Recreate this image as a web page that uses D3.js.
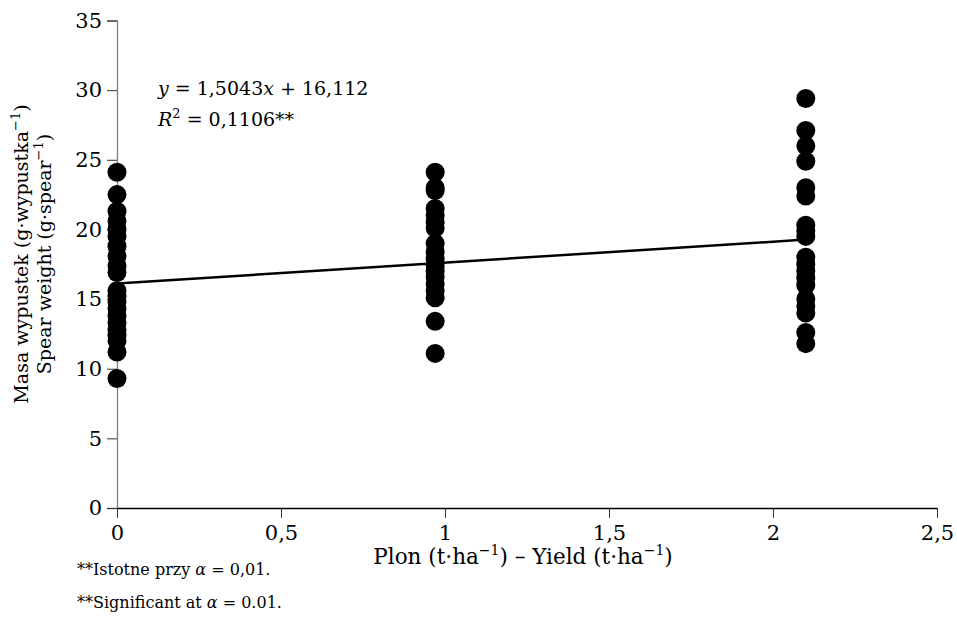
<!DOCTYPE html>
<html>
<head>
<meta charset="utf-8">
<script src="https://cdn.jsdelivr.net/npm/d3@7"></script>
<style>
  html, body { margin: 0; padding: 0; background: #fff; }
  svg text { font-family: "DejaVu Serif", serif; fill: #000; }
</style>
</head>
<body>
<svg id="chart" width="957" height="624"></svg>
<script>
// ---- data ----
const xTicks = [0, 0.5, 1, 1.5, 2, 2.5];
const yTicks = [0, 5, 10, 15, 20, 25, 30, 35];
const groupX = [0, 0.97, 2.1];
const group0 = [24.1, 22.5, 21.3, 20.6, 20.0, 19.5, 18.8, 18.1, 17.4, 16.9, 15.6, 15.2, 14.8, 14.3, 13.8, 13.3, 12.8, 12.4, 12.0, 11.2, 9.3];
const group1 = [24.1, 23.0, 22.8, 21.5, 21.0, 20.5, 20.1, 19.0, 18.4, 17.9, 17.4, 17.0, 16.6, 16.1, 15.6, 15.1, 13.4, 11.1];
const group2 = [29.4, 27.1, 26.0, 24.9, 23.0, 22.4, 20.3, 19.9, 19.5, 18.0, 17.5, 17.0, 16.5, 16.0, 15.0, 14.5, 14.0, 12.6, 11.8];
const slope = 1.5043, intercept = 16.112;
const lineX = [0, 2.1];

const points = [];
[group0, group1, group2].forEach((g, i) => g.forEach(v => points.push({x: groupX[i], y: v})));

const svg = d3.select("#chart");
const x = d3.scaleLinear().domain([0, 2.5]).range([117, 937]);
const y = d3.scaleLinear().domain([0, 35]).range([508, 20.5]);

const fmt = d => String(d).replace(".", ",");

// y axis
const yAxis = svg.append("g").attr("transform", `translate(${x(0)},0)`)
  .call(d3.axisLeft(y).tickValues(yTicks).tickSize(10).tickPadding(5).tickFormat(fmt));
yAxis.select(".domain").attr("stroke", "#7f7f7f").attr("stroke-width", 1.3);
yAxis.selectAll(".tick line").attr("stroke", "#333").attr("stroke-width", 1);
yAxis.selectAll(".tick text").style("font-size", "21px");

// x axis
const xAxis = svg.append("g").attr("transform", `translate(0,${y(0)})`)
  .call(d3.axisBottom(x).tickValues(xTicks).tickSize(10).tickSizeOuter(0).tickPadding(7).tickFormat(fmt));
xAxis.select(".domain").attr("stroke", "#000").attr("stroke-width", 1.3);
xAxis.selectAll(".tick line").attr("stroke", "#333").attr("stroke-width", 1);
xAxis.selectAll(".tick text").style("font-size", "21px");

// points
svg.append("g").selectAll("circle").data(points).join("circle")
  .attr("cx", d => x(d.x)).attr("cy", d => y(d.y)).attr("r", 9.5).attr("fill", "#000");

// regression line
svg.append("line")
  .attr("x1", x(lineX[0])).attr("y1", y(slope * lineX[0] + intercept))
  .attr("x2", x(lineX[1])).attr("y2", y(slope * lineX[1] + intercept))
  .attr("stroke", "#000").attr("stroke-width", 2.5);

function richText(sel, parts, supSize, shift) {
  parts.forEach(p => {
    const t = sel.append("tspan").text(p.t);
    if (p.sup) t.attr("dy", -shift).style("font-size", supSize + "px");
    if (p.down) t.attr("dy", shift);
    if (p.italic) t.attr("font-style", "italic");
  });
}

// equation
const eq = svg.append("text").attr("x", 158).attr("y", 95).style("font-size", "19px");
richText(eq, [{t: "y", italic: true}, {t: " = 1,5043"}, {t: "x", italic: true}, {t: " + 16,112"}], 13, 8);
const r2 = svg.append("text").attr("x", 158).attr("y", 126).style("font-size", "19px");
richText(r2, [{t: "R", italic: true}, {t: "2", sup: true}, {t: " = 0,1106**", down: true}], 13, 8);

// y axis title
const yt1 = svg.append("text").attr("transform", "translate(28,254) rotate(-90)")
  .attr("text-anchor", "middle").style("font-size", "19px");
richText(yt1, [{t: "Masa wypustek (g·wypustka"}, {t: "−1", sup: true}, {t: ")", down: true}], 13, 8);
const yt2 = svg.append("text").attr("transform", "translate(51,254) rotate(-90)")
  .attr("text-anchor", "middle").style("font-size", "19px");
richText(yt2, [{t: "Spear weight (g·spear"}, {t: "−1", sup: true}, {t: ")", down: true}], 13, 8);

// x axis title
const xt = svg.append("text").attr("x", 523).attr("y", 564)
  .attr("text-anchor", "middle").style("font-size", "21.5px");
richText(xt, [{t: "Plon (t·ha"}, {t: "−1", sup: true}, {t: ") – Yield (t·ha", down: true}, {t: "−1", sup: true}, {t: ")", down: true}], 14, 9);

// footnotes
const f1 = svg.append("text").attr("x", 77).attr("y", 575).style("font-size", "16px");
richText(f1, [{t: "**Istotne przy "}, {t: "α", italic: true}, {t: " = 0,01."}], 12, 7);
const f2 = svg.append("text").attr("x", 77).attr("y", 608).style("font-size", "16px");
richText(f2, [{t: "**Significant at "}, {t: "α", italic: true}, {t: " = 0.01."}], 12, 7);
</script>
</body>
</html>
